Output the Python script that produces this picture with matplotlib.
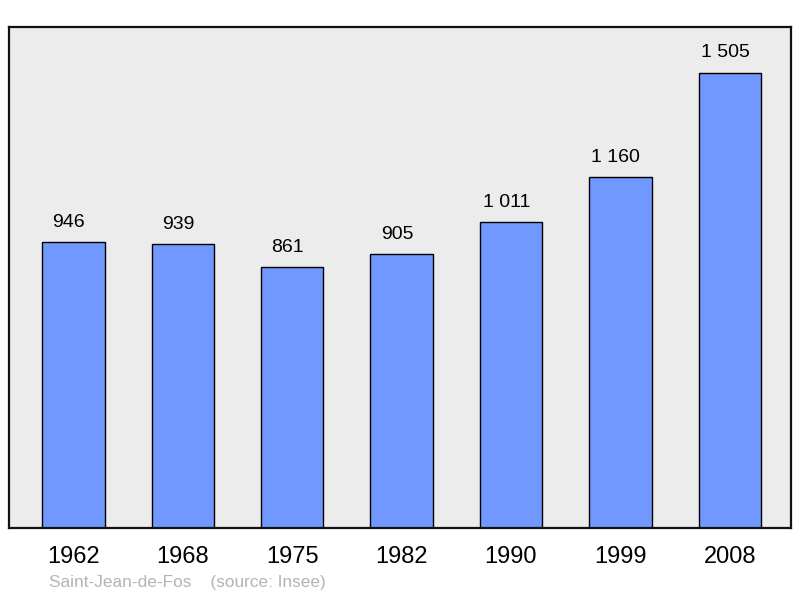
import matplotlib.pyplot as plt

# data
years = ["1962", "1968", "1975", "1982", "1990", "1999", "2008"]
population = [946, 939, 861, 905, 1011, 1160, 1505]
value_labels = ["946", "939", "861", "905", "1 011", "1 160", "1 505"]

plt.rcParams['font.family'] = ['Liberation Sans', 'DejaVu Sans']

W, H = 800, 598
fig = plt.figure(figsize=(W / 100, H / 100), dpi=100, facecolor='white')
ax = fig.add_axes([9 / W, (H - 528) / H, 782 / W, 501 / H])
ax.set_facecolor('#ececec')

x = list(range(len(years)))
ax.bar(x, population, width=0.57, color='#7098ff', edgecolor='black', linewidth=1.0, zorder=2)

ymax = max(population) * 1.1
ax.set_xlim(-0.588, 6.56)
ax.set_ylim(0, ymax)

# value labels, nudged a little left like the original
for xi, v, lab in zip(x, population, value_labels):
    ax.annotate(lab, (xi, v), xytext=(-3.3, 8), textcoords='offset points',
                ha='center', va='bottom', fontsize=14, color='black')

ax.set_xticks(x)
ax.set_xticklabels(years, fontsize=17)
ax.tick_params(axis='x', length=0, pad=13)
ax.set_yticks([])

for spine in ax.spines.values():
    spine.set_linewidth(1.6)
    spine.set_color('#111111')

fig.text(49 / W, 1 - 583 / H, "Saint-Jean-de-Fos    (source: Insee)",
         fontsize=12.4, color='#b4b4b4', ha='left', va='center')

fig.savefig('out.png', dpi=100, facecolor='white')
